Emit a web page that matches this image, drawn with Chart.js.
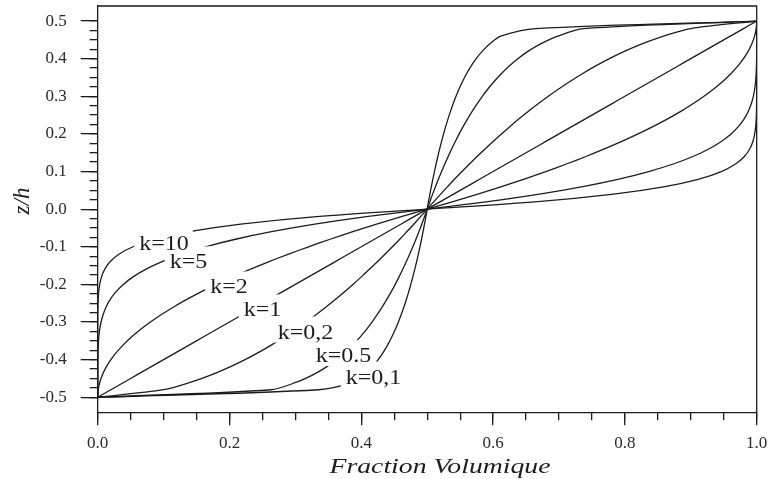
<!DOCTYPE html>
<html><head><meta charset="utf-8">
<script src="https://cdn.jsdelivr.net/npm/chart.js@4.4.0/dist/chart.umd.min.js"></script>
<style>html,body{margin:0;padding:0;background:#fff;}canvas{display:block;}</style>
</head><body>
<canvas id="c" width="770" height="479"></canvas>
<script>
// z/h levels (y values)
const zLevels = [-0.5,-0.48,-0.46,-0.44,-0.42,-0.4,-0.38,-0.36,-0.34,-0.32,-0.3,-0.28,-0.26,-0.24,-0.22,-0.2,-0.18,-0.16,-0.14,-0.12,-0.1,-0.08,-0.06,-0.04,-0.02,0,
  0.02,0.04,0.06,0.08,0.1,0.12,0.14,0.16,0.18,0.2,0.22,0.24,0.26,0.28,0.3,0.32,0.34,0.36,0.38,0.4,0.42,0.44,0.46,0.48,0.5];
// volume fraction values (x) for each curve
const vK10 = [0,0,0,0,0,0,0,0.000002,0.000006,0.00002,0.00005,0.00014,0.00033,0.00072,0.00152,0.00302,0.00577,0.01057,0.01872,0.03214,0.05369,0.08745,0.13925,0.21719,0.33242,0.5,
  0.66758,0.78281,0.86075,0.91255,0.94631,0.96786,0.98128,0.98943,0.99424,0.99698,0.99848,0.99928,0.99967,0.99986,0.99995,0.99998,0.999994,0.999998,1,1,1,1,1,1,1];
const vK5 = [0,0,0,0.00001,0.00005,0.00016,0.0004,0.00086,0.00168,0.00302,0.00512,0.00825,0.01274,0.01901,0.02754,0.03888,0.05369,0.0727,0.09675,0.12678,0.16384,0.20911,0.26387,0.32954,0.40769,0.5,
  0.59231,0.67046,0.73613,0.79089,0.83616,0.87322,0.90325,0.9273,0.94631,0.96112,0.97246,0.98099,0.98726,0.99175,0.99488,0.99698,0.99832,0.99914,0.9996,0.99984,0.99995,0.99999,1,1,1];
const vK2 = [0,0.0008,0.0032,0.0072,0.0128,0.02,0.0288,0.0392,0.0512,0.0648,0.08,0.0968,0.1152,0.1352,0.1568,0.18,0.2048,0.2312,0.2592,0.2888,0.32,0.3528,0.3872,0.4232,0.4608,0.5,
  0.5392,0.5768,0.6128,0.6472,0.68,0.7112,0.7408,0.7688,0.7952,0.82,0.8432,0.8648,0.8848,0.9032,0.92,0.9352,0.9488,0.9608,0.9712,0.98,0.9872,0.9928,0.9968,0.9992,1];
const vK1 = [0,0.02,0.04,0.06,0.08,0.1,0.12,0.14,0.16,0.18,0.2,0.22,0.24,0.26,0.28,0.3,0.32,0.34,0.36,0.38,0.4,0.42,0.44,0.46,0.48,0.5,
  0.52,0.54,0.56,0.58,0.6,0.62,0.64,0.66,0.68,0.7,0.72,0.74,0.76,0.78,0.8,0.82,0.84,0.86,0.88,0.9,0.92,0.94,0.96,0.98,1];
const vK05 = [0,0.1,0.1414,0.1732,0.2,0.2236,0.2449,0.2646,0.2828,0.3,0.3162,0.3317,0.3464,0.3606,0.3742,0.3873,0.4,0.4123,0.4243,0.4359,0.4472,0.4583,0.469,0.4796,0.4899,0.5,
  0.5101,0.5204,0.531,0.5417,0.5528,0.5641,0.5757,0.5877,0.6,0.6127,0.6258,0.6394,0.6536,0.6683,0.6838,0.7,0.7172,0.7354,0.7551,0.7764,0.8,0.8268,0.8586,0.9,1];
const vK02 = [0,0.2627,0.3017,0.3272,0.3466,0.3624,0.3759,0.3876,0.3981,0.4076,0.4163,0.4243,0.4318,0.4387,0.4453,0.4515,0.4573,0.4629,0.4682,0.4733,0.4782,0.4829,0.4874,0.4918,0.4959,0.5,
  0.5041,0.5082,0.5126,0.5171,0.5218,0.5267,0.5318,0.5371,0.5427,0.5485,0.5547,0.5613,0.5682,0.5757,0.5837,0.5924,0.6019,0.6124,0.6241,0.6376,0.6534,0.6728,0.6983,0.7373,1];
const vK01 = [0,0.335,0.3884,0.4045,0.4163,0.4257,0.4335,0.4403,0.4462,0.4515,0.4563,0.4606,0.4647,0.4684,0.4719,0.4751,0.4782,0.4811,0.4839,0.4865,0.489,0.4914,0.4937,0.4959,0.498,0.5,
  0.502,0.5041,0.5063,0.5086,0.511,0.5135,0.5161,0.5189,0.5218,0.5249,0.5281,0.5316,0.5353,0.5394,0.5437,0.5485,0.5538,0.5597,0.5665,0.5743,0.5837,0.5955,0.6116,0.665,1];
const curveNames = ['k=10','k=5','k=2','k=1','k=0.5','k=0.2','k=0.1'];
const curveValues = [vK10, vK5, vK2, vK1, vK05, vK02, vK01];
// tick labels
const xTickValues = [0, 0.2, 0.4, 0.6, 0.8, 1.0];
const yTickValues = [-0.5, -0.4, -0.3, -0.2, -0.1, 0, 0.1, 0.2, 0.3, 0.4, 0.5];
// in-plot annotations (text, centre V, baseline z)
const noteTexts = ['k=10', 'k=5', 'k=2', 'k=1', 'k=0,2', 'k=0.5', 'k=0,1'];
const noteV = [0.1006, 0.1378, 0.1992, 0.2501, 0.3153, 0.373, 0.4185];
const noteZ = [-0.1097, -0.1576, -0.2241, -0.2853, -0.3439, -0.4064, -0.4637];
const xTitle = 'Fraction Volumique';
const yTitle = 'z/h';

const INK = '#1c1c1c';
const SERIF = '"Liberation Serif", "Times New Roman", serif';

const datasets = curveValues.map((vals, i) => ({
  label: curveNames[i],
  data: zLevels.map((z, j) => ({x: vals[j], y: z})),
  showLine: true, borderColor: INK, borderWidth: 1.3, pointRadius: 0, fill: false, tension: 0.3
}));

function noPad(s) { s.paddingTop = 0; s.paddingBottom = 0; s.paddingLeft = 0; s.paddingRight = 0; }

const annotate = {
  id: 'annotate',
  afterDatasetsDraw(chart) {
    const ctx = chart.ctx, xs = chart.scales.x, ys = chart.scales.y;
    const sx = 1.2;
    ctx.save();
    ctx.font = '20px ' + SERIF;
    const items = noteTexts.map((t, i) => ({
      t, px: xs.getPixelForValue(noteV[i]), py: ys.getPixelForValue(noteZ[i]),
      w: ctx.measureText(t).width * sx
    }));
    ctx.fillStyle = '#fff';
    items.forEach(it => ctx.fillRect(it.px - it.w / 2 - 5, it.py - 22, it.w + 9, 26));
    ctx.fillStyle = INK;
    ctx.textAlign = 'center';
    ctx.textBaseline = 'alphabetic';
    items.forEach(it => {
      ctx.save();
      ctx.translate(it.px, it.py);
      ctx.scale(sx, 1);
      ctx.fillText(it.t, 0, 0);
      ctx.restore();
    });
    ctx.restore();
  },
  afterDraw(chart) {
    const ctx = chart.ctx, a = chart.chartArea;
    ctx.save();
    ctx.strokeStyle = INK;
    ctx.lineWidth = 1.3;
    ctx.beginPath();
    ctx.moveTo(a.left, a.top);
    ctx.lineTo(a.right, a.top);
    ctx.lineTo(a.right, a.bottom);
    ctx.stroke();
    ctx.fillStyle = INK;
    ctx.font = 'italic 21px ' + SERIF;
    ctx.textAlign = 'center';
    ctx.textBaseline = 'alphabetic';
    ctx.save();
    ctx.translate(440, 473);
    ctx.scale(1.32, 1);
    ctx.fillText(xTitle, 0, 0);
    ctx.restore();
    ctx.save();
    ctx.translate(29, 201);
    ctx.rotate(-Math.PI / 2);
    ctx.font = 'italic 23px ' + SERIF;
    ctx.fillText(yTitle, 0, 0);
    ctx.restore();
    ctx.restore();
  }
};

const tickFont = {family: SERIF, size: 17};
new Chart(document.getElementById('c'), {
  type: 'scatter',
  data: {datasets},
  options: {
    responsive: false, animation: false, devicePixelRatio: 1,
    layout: {padding: {left: 0, right: 13.3, top: 6, bottom: 0}},
    plugins: {legend: {display: false}, tooltip: {enabled: false}},
    scales: {
      x: {
        type: 'linear', position: 'bottom', min: 0, max: 1, weight: 1,
        afterBuildTicks(s) { s.ticks = xTickValues.map(v => ({value: v})); },
        afterFit(s) { s.height = 66.7; noPad(s); },
        ticks: {callback: v => Number(v).toFixed(1), font: tickFont, color: '#2a2a2a', padding: 8, maxRotation: 0, autoSkip: false},
        grid: {drawOnChartArea: false, drawTicks: true, tickLength: 13, color: INK, lineWidth: 1.3},
        border: {display: true, color: INK, width: 1.3}
      },
      xMinor: {
        type: 'linear', position: 'bottom', min: 0, max: 1, weight: 0,
        afterFit(s) { s.height = 0; noPad(s); },
        ticks: {display: false, stepSize: 0.05, autoSkip: false},
        grid: {drawOnChartArea: false, drawTicks: true, tickLength: 8, color: INK, lineWidth: 1.3},
        border: {display: false}
      },
      y: {
        type: 'linear', position: 'left', min: -0.54, max: 0.54, weight: 1,
        afterBuildTicks(s) { s.ticks = yTickValues.map(v => ({value: v})); },
        afterFit(s) { s.width = 97.7; noPad(s); },
        ticks: {callback: v => Number(v).toFixed(1), font: tickFont, color: '#2a2a2a', padding: 14, autoSkip: false},
        grid: {drawOnChartArea: false, drawTicks: true, tickLength: 17, color: INK, lineWidth: 1.3},
        border: {display: true, color: INK, width: 1.3}
      },
      yMinor: {
        type: 'linear', position: 'left', min: -0.54, max: 0.54, weight: 0,
        afterBuildTicks(s) { s.ticks = s.ticks.filter(t => Math.abs(t.value / 0.025 - Math.round(t.value / 0.025)) < 1e-6); },
        afterFit(s) { s.width = 0; noPad(s); },
        ticks: {display: false, stepSize: 0.025, autoSkip: false},
        grid: {drawOnChartArea: false, drawTicks: true, tickLength: 8, color: INK, lineWidth: 1.3},
        border: {display: false}
      }
    }
  },
  plugins: [annotate]
});
</script>
</body></html>
